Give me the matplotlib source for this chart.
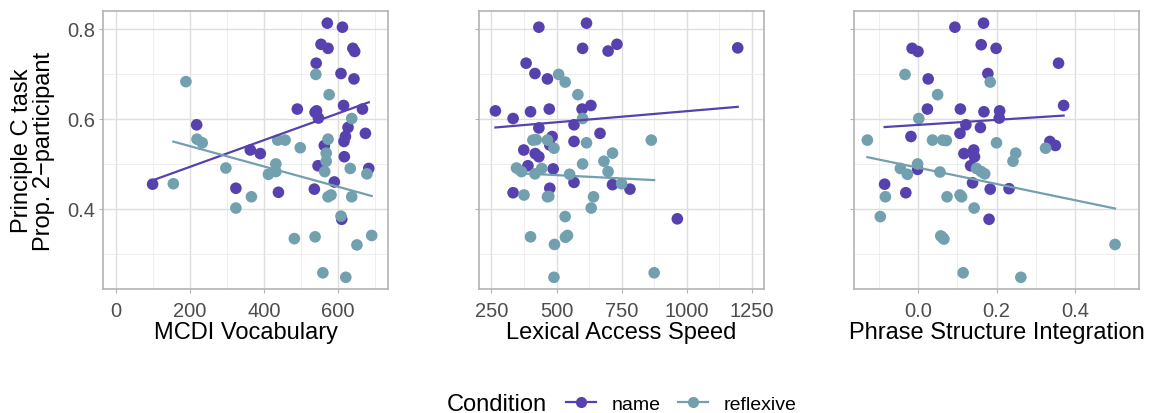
import numpy as np
import matplotlib.pyplot as plt
from matplotlib.lines import Line2D

plt.rcParams['font.family'] = ['Liberation Sans', 'DejaVu Sans']

PURPLE = '#5741AE'
TEAL = '#72A0AF'

# MCDI Vocabulary
mcdi_name_x = [571, 612, 554, 573, 640, 645, 541, 608, 643, 490, 542, 538, 547, 615, 666, 627,
               674, 620, 616, 563, 218, 363, 390, 617, 546, 683, 590, 99, 324, 536, 439, 610]
mcdi_name_y = [0.813, 0.804, 0.766, 0.757, 0.757, 0.750, 0.724, 0.701, 0.689, 0.622, 0.618, 0.615,
               0.602, 0.630, 0.622, 0.581, 0.568, 0.561, 0.550, 0.541, 0.587, 0.531, 0.523, 0.516,
               0.496, 0.490, 0.460, 0.455, 0.446, 0.444, 0.437, 0.377]
mcdi_refl_x = [189, 540, 576, 637, 219, 233, 437, 457, 498, 573, 568, 568, 297, 432, 432, 412,
               564, 633, 678, 155, 366, 573, 581, 637, 324, 608, 482, 538, 651, 691, 559, 621]
mcdi_refl_y = [0.683, 0.699, 0.654, 0.601, 0.555, 0.547, 0.553, 0.553, 0.536, 0.555, 0.524, 0.506,
               0.491, 0.500, 0.483, 0.477, 0.483, 0.490, 0.478, 0.456, 0.427, 0.427, 0.431, 0.427,
               0.402, 0.384, 0.334, 0.338, 0.320, 0.341, 0.258, 0.248]

# Lexical Access Speed
lex_name_x = [432, 615, 600, 698, 732, 1196, 383, 417, 465, 265, 400, 472, 598, 632, 333, 432,
              567, 667, 483, 567, 474, 374, 418, 432, 390, 487, 567, 333, 474, 715, 782, 964]
lex_name_y = [0.804, 0.813, 0.757, 0.751, 0.766, 0.758, 0.724, 0.701, 0.689, 0.618, 0.616, 0.622,
              0.622, 0.630, 0.601, 0.580, 0.587, 0.568, 0.561, 0.550, 0.542, 0.531, 0.523, 0.516,
              0.496, 0.489, 0.459, 0.436, 0.446, 0.454, 0.444, 0.378]
lex_refl_x = [508, 533, 582, 600, 409, 422, 465, 490, 615, 864, 715, 682, 600, 346, 365, 417,
              443, 550, 698, 750, 375, 465, 642, 470, 633, 533, 400, 492, 534, 542, 490, 875]
lex_refl_y = [0.699, 0.682, 0.654, 0.601, 0.553, 0.554, 0.553, 0.535, 0.547, 0.553, 0.524, 0.506,
              0.500, 0.491, 0.483, 0.478, 0.490, 0.477, 0.483, 0.456, 0.431, 0.427, 0.427, 0.428,
              0.402, 0.383, 0.338, 0.321, 0.337, 0.341, 0.248, 0.258]

# Phrase Structure Integration
psi_name_x = [0.094, 0.167, -0.015, 0.000, 0.161, 0.199, 0.358, 0.178, 0.026, 0.024, 0.108, 0.168,
              0.208, 0.207, 0.371, 0.122, 0.159, -0.018, 0.107, 0.142, 0.117, 0.144, 0.134, 0.336,
              0.350, -0.001, -0.085, -0.031, 0.139, 0.184, 0.232, 0.181]
psi_name_y = [0.804, 0.813, 0.757, 0.750, 0.765, 0.757, 0.724, 0.701, 0.689, 0.622, 0.622, 0.616,
              0.618, 0.602, 0.630, 0.587, 0.581, 0.561, 0.568, 0.531, 0.523, 0.516, 0.496, 0.550,
              0.541, 0.488, 0.455, 0.436, 0.458, 0.444, 0.445, 0.377]
psi_refl_x = [-0.129, -0.033, 0.050, 0.002, 0.184, 0.037, 0.063, 0.072, 0.200, 0.249, 0.242, 0.325,
              -0.001, -0.045, -0.027, 0.056, 0.149, 0.161, 0.170, -0.083, 0.074, 0.107, 0.111, 0.143,
              -0.096, 0.058, 0.066, 0.502, 0.115, 0.262, 0.062]
psi_refl_y = [0.553, 0.699, 0.654, 0.601, 0.682, 0.553, 0.553, 0.552, 0.547, 0.524, 0.506, 0.535,
              0.500, 0.490, 0.477, 0.482, 0.490, 0.483, 0.478, 0.427, 0.427, 0.431, 0.427, 0.402,
              0.383, 0.340, 0.333, 0.321, 0.258, 0.248, 0.337]

panels = [
    ('MCDI Vocabulary', mcdi_name_x, mcdi_name_y, mcdi_refl_x, mcdi_refl_y,
     (-35, 735), [0, 200, 400, 600], ['0', '200', '400', '600'], 100),
    ('Lexical Access Speed', lex_name_x, lex_name_y, lex_refl_x, lex_refl_y,
     (202, 1297), [250, 500, 750, 1000, 1250], ['250', '500', '750', '1000', '1250'], 125),
    ('Phrase Structure Integration', psi_name_x, psi_name_y, psi_refl_x, psi_refl_y,
     (-0.163, 0.563), [0.0, 0.2, 0.4], ['0.0', '0.2', '0.4'], 0.1),
]

fig = plt.figure(figsize=(11.5, 4.14), dpi=100)
lefts = [103, 479, 854]

for left, (xlabel, nx, ny, rx, ry, xlim, xt, xtl, minor_step) in zip(lefts, panels):
    ax = fig.add_axes([left / 1150, (414 - 290) / 414, 285 / 1150, 278 / 414])
    ax.set_xlim(*xlim)
    ax.set_ylim(0.222, 0.84)
    ax.set_xticks(xt)
    ax.set_xticklabels(xtl)
    ax.set_yticks([0.4, 0.6, 0.8])
    ax.set_yticklabels(['0.4', '0.6', '0.8'] if left == 103 else [])
    minors = np.arange(xt[0] - minor_step, xlim[1], minor_step * 2)
    ax.set_xticks([m for m in minors if xlim[0] < m < xlim[1]], minor=True)
    ax.set_yticks([0.3, 0.5, 0.7], minor=True)
    ax.grid(True, which='major', color='#DEDEDE', linewidth=1.0)
    ax.grid(True, which='minor', color='#EBEBEB', linewidth=0.6)
    ax.set_axisbelow(True)
    for s in ax.spines.values():
        s.set_color('#B3B3B3')
        s.set_linewidth(1.2)
    ax.tick_params(which='major', length=3, color='#B3B3B3', labelsize=14.5,
                   labelcolor='#4D4D4D', pad=2.5)
    ax.tick_params(axis='x', which='major', pad=5.5)
    ax.tick_params(which='minor', length=0)
    ax.set_xlabel(xlabel, fontsize=17, labelpad=1)

    for xs, ys, c in [(nx, ny, PURPLE), (rx, ry, TEAL)]:
        xs = np.asarray(xs, dtype=float)
        ys = np.asarray(ys, dtype=float)
        ax.scatter(xs, ys, s=70, color=c, edgecolors='none', zorder=3)
        m, b = np.polyfit(xs, ys, 1)
        xx = np.array([xs.min(), xs.max()])
        ax.plot(xx, m * xx + b, color=c, linewidth=1.6, zorder=4)

fig.text(33 / 1150, 1 - 151 / 414, 'Principle C task\nProp. 2\u2212participant',
         rotation=90, ha='center', va='center', fontsize=17, linespacing=1.02)

fig.text(447 / 1150, 1 - 405 / 414, 'Condition', ha='left', va='center', fontsize=17)
handles = [Line2D([], [], color=PURPLE, marker='o', markersize=7, linewidth=1.6),
           Line2D([], [], color=TEAL, marker='o', markersize=7, linewidth=1.6)]
fig.legend(handles, ['name', 'reflexive'], ncol=2, loc='center left',
           bbox_to_anchor=(566 / 1150, 1 - 405 / 414), frameon=False, fontsize=14,
           handlelength=1.55, handletextpad=0.8, columnspacing=0.9,
           borderpad=0, borderaxespad=0)

fig.savefig('out.png', dpi=100)
